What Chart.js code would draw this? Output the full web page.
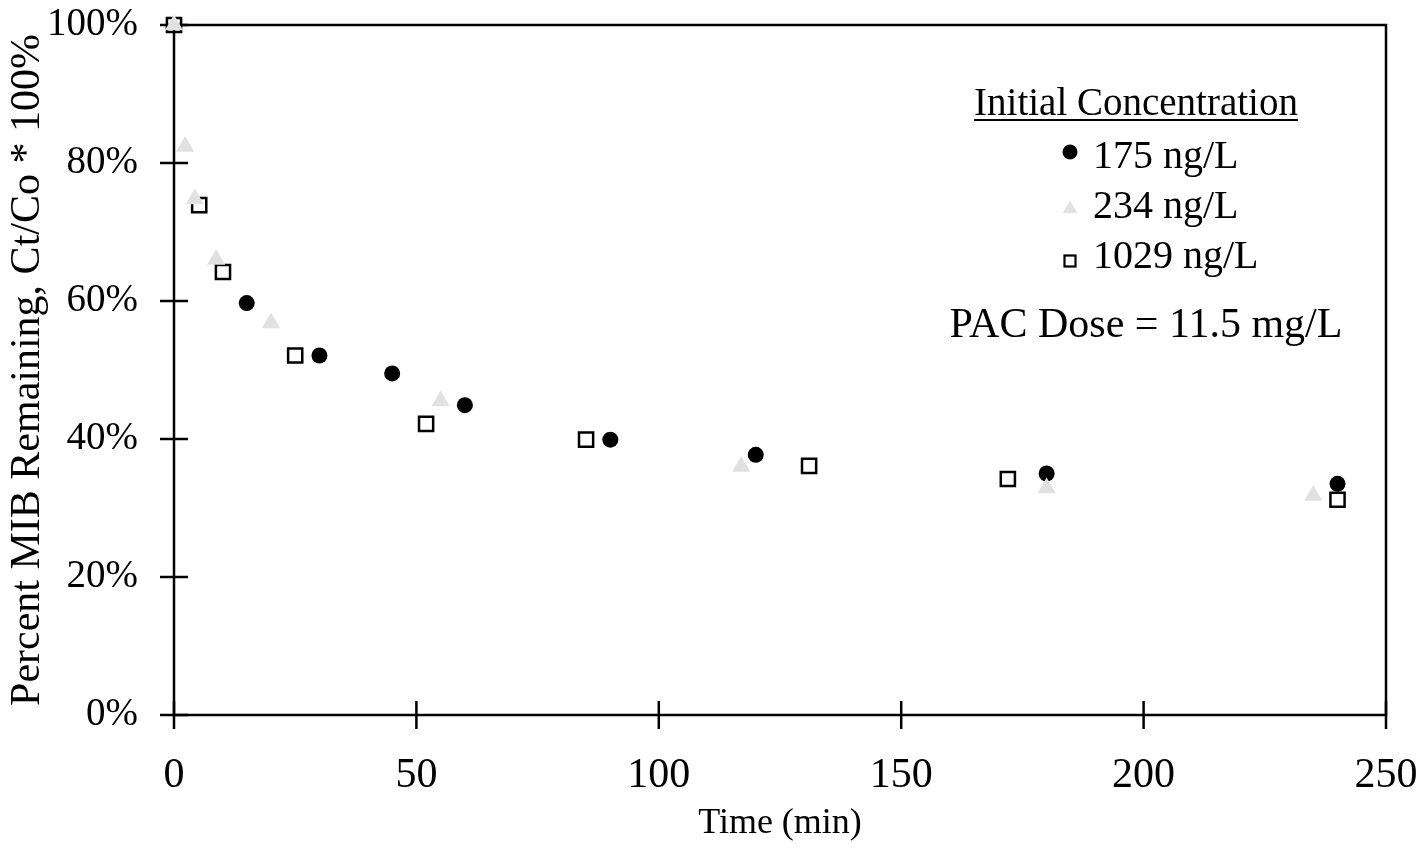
<!DOCTYPE html>
<html>
<head>
<meta charset="utf-8">
<script src="https://cdn.jsdelivr.net/npm/chart.js@4.4.1/dist/chart.umd.min.js"></script>
<style>
  html, body { margin: 0; padding: 0; background: #fff; }
  #wrap { width: 1425px; height: 848px; position: relative; }
</style>
</head>
<body>
<div id="wrap"><canvas id="mibChart"></canvas></div>
<script>
// time (min) and percent remaining for each initial concentration
const time175 = [15, 30, 45, 60, 90, 120, 180, 240];
const pct175 = [59.7, 52.1, 49.5, 44.9, 39.9, 37.7, 35.0, 33.5];

const time234 = [0, 2.3, 4.3, 8.7, 20, 55, 117, 180, 235];
const pct234 = [100, 82.4, 74.8, 66.0, 56.8, 45.5, 36.0, 32.9, 31.8];

const time1029 = [0, 5.2, 10.1, 25, 52, 85, 131, 172, 240];
const pct1029 = [100, 73.9, 64.2, 52.1, 42.2, 39.9, 36.1, 34.2, 31.2];

const seriesLabels = ["175 ng/L", "234 ng/L", "1029 ng/L"];
const xTicks = [0, 50, 100, 150, 200, 250];
const yTicks = [0, 20, 40, 60, 80, 100];

const FONT = "'Liberation Serif', 'Times New Roman', serif";
const ctx = document.getElementById("mibChart");

function toPoints(xs, ys) {
  return xs.map((x, i) => ({ x, y: ys[i] }));
}

// box round the plot, with ticks crossing the axis lines
const frame = {
  id: "frame",
  beforeDatasetsDraw(chart) {
    const { ctx, chartArea: a, scales } = chart;
    ctx.save();
    ctx.strokeStyle = "#000";
    ctx.lineWidth = 2.5;
    ctx.strokeRect(a.left, a.top, a.right - a.left, a.bottom - a.top);
    ctx.beginPath();
    yTicks.forEach(v => {
      const y = scales.y.getPixelForValue(v);
      ctx.moveTo(a.left - 14, y);
      ctx.lineTo(a.left + 14, y);
    });
    xTicks.forEach(v => {
      const x = scales.x.getPixelForValue(v);
      ctx.moveTo(x, a.bottom - 14);
      ctx.lineTo(x, a.bottom + 14);
    });
    ctx.stroke();
    ctx.restore();
  }
};

function marker(c, style, x, y, r) {
  c.beginPath();
  if (style === "circle") {
    c.fillStyle = "#000";
    c.arc(x, y, r, 0, Math.PI * 2);
    c.fill();
  } else if (style === "triangle") {
    c.fillStyle = "#e1e1e1";
    c.moveTo(x, y - r);
    c.lineTo(x + r * 0.866, y + r * 0.5);
    c.lineTo(x - r * 0.866, y + r * 0.5);
    c.closePath();
    c.fill();
  } else {
    c.strokeStyle = "#000";
    c.lineWidth = 2.2;
    c.strokeRect(x - r, y - r, 2 * r, 2 * r);
  }
}

// legend and dose note inside the plot
const notes = {
  id: "notes",
  afterDraw(chart) {
    const c = chart.ctx;
    c.save();
    c.fillStyle = "#000";
    c.textBaseline = "alphabetic";
    c.textAlign = "center";
    c.font = "39px " + FONT;
    const head = "Initial Concentration";
    c.fillText(head, 1136, 115);
    const w = c.measureText(head).width;
    c.fillRect(1136 - w / 2, 119, w, 2);

    const styles = ["circle", "triangle", "rect"];
    const baselines = [168, 218, 268];
    const markerY = [152, 209, 261];
    const sizes = [7.5, 8.5, 5.5];
    c.font = "40px " + FONT;
    c.textAlign = "left";
    seriesLabels.forEach((lab, i) => {
      marker(c, styles[i], 1070, markerY[i], sizes[i]);
      c.fillStyle = "#000";
      c.fillText(lab, 1093, baselines[i]);
    });

    c.font = "42px " + FONT;
    c.textAlign = "center";
    c.fillText("PAC Dose = 11.5 mg/L", 1146, 337);
    c.restore();
  }
};

new Chart(ctx, {
  type: "scatter",
  data: {
    datasets: [
      {
        label: seriesLabels[1],
        data: toPoints(time234, pct234),
        pointStyle: "triangle",
        pointRadius: 10.5,
        backgroundColor: "#e1e1e1",
        borderColor: "#e1e1e1",
        borderWidth: 0,
        clip: false
      },
      {
        label: seriesLabels[2],
        data: toPoints(time1029, pct1029),
        pointStyle: "rect",
        pointRadius: 10,
        backgroundColor: "rgba(255,255,255,0)",
        borderColor: "#000",
        borderWidth: 2.5,
        clip: false
      },
      {
        label: seriesLabels[0],
        data: toPoints(time175, pct175),
        pointStyle: "circle",
        pointRadius: 8,
        backgroundColor: "#000",
        borderColor: "#000",
        borderWidth: 0,
        clip: false
      }
    ]
  },
  options: {
    responsive: true,
    maintainAspectRatio: false,
    animation: false,
    layout: { padding: { top: 25, right: 39, left: 0, bottom: 0 } },
    plugins: {
      legend: { display: false },
      tooltip: { enabled: false }
    },
    scales: {
      x: {
        type: "linear",
        min: 0,
        max: 250,
        afterBuildTicks: s => { s.ticks = xTicks.map(v => ({ value: v })); },
        afterFit: s => {
          s.height = 133;
          s.paddingLeft = 0;
          s.paddingRight = 0;
        },
        grid: { display: false },
        border: { display: false },
        ticks: {
          color: "#000",
          padding: 28,
          font: { family: FONT, size: 42 }
        },
        title: {
          display: true,
          text: "Time (min)",
          color: "#000",
          padding: { top: 0, bottom: 3 },
          font: { family: FONT, size: 36 }
        }
      },
      y: {
        min: 0,
        max: 100,
        afterBuildTicks: s => { s.ticks = yTicks.map(v => ({ value: v })); },
        afterFit: s => {
          s.width = 174;
          s.paddingTop = 0;
          s.paddingBottom = 0;
        },
        grid: { display: false },
        border: { display: false },
        ticks: {
          color: "#000",
          padding: 28,
          font: { family: FONT, size: 39 },
          callback: v => v + "%"
        },
        title: {
          display: true,
          text: "Percent MIB Remaining, Ct/Co * 100%",
          color: "#000",
          padding: { top: 3, bottom: 0 },
          font: { family: FONT, size: 42 }
        }
      }
    }
  },
  plugins: [frame, notes]
});
</script>
</body>
</html>
